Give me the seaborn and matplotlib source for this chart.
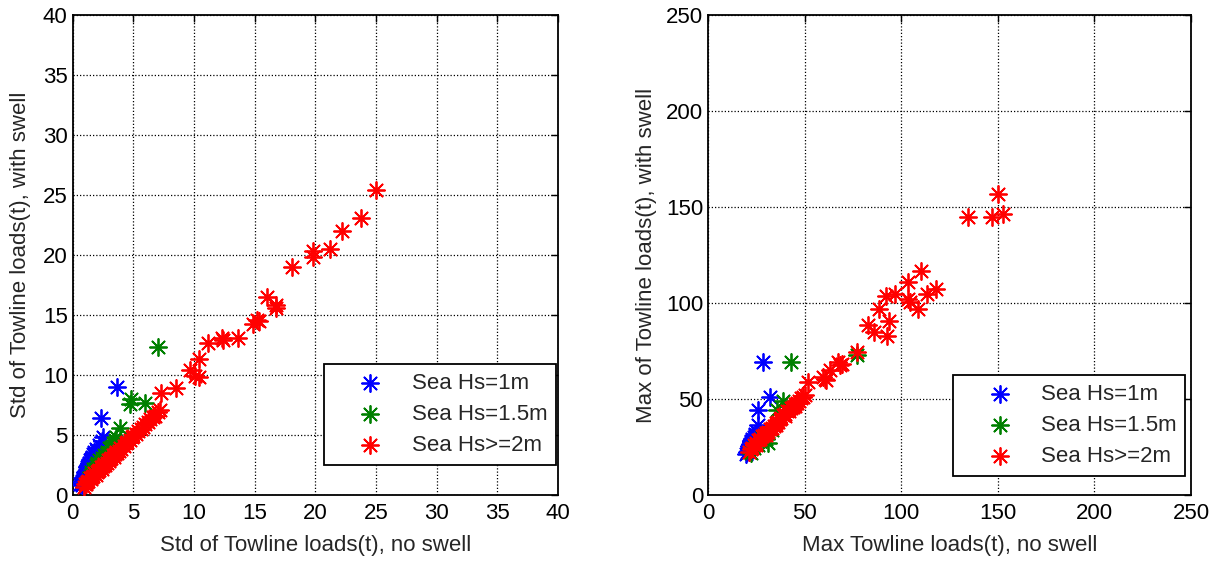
import matplotlib
matplotlib.use("Agg")
import matplotlib.pyplot as plt
import seaborn as sns
import numpy as np

# ---------------- data: left panel (Std) ----------------
std_hs1_x = [0.6, 0.7, 0.75, 0.8, 0.85, 0.9, 0.95, 1.0, 1.05, 1.1, 1.15, 1.2, 1.3, 1.35, 1.4,
             1.5, 1.6, 1.7, 1.8, 1.9, 2.0, 2.2, 2.4, 2.5, 2.3, 3.7]
std_hs1_y = [0.9, 1.0, 0.8, 1.2, 1.3, 1.5, 1.4, 1.7, 1.9, 2.0, 2.1, 2.3, 2.5, 2.7, 2.9,
             3.0, 3.2, 3.4, 3.6, 3.8, 3.5, 4.2, 4.5, 4.8, 6.4, 9.0]

std_hs15_x = [1.5, 1.7, 1.9, 2.0, 2.2, 2.4, 2.6, 2.8, 2.9, 3.0, 3.2, 3.3, 3.5, 3.6, 3.9,
              4.7, 4.85, 5.95, 7.0]
std_hs15_y = [1.9, 2.2, 2.5, 2.7, 2.9, 3.1, 3.3, 3.6, 3.5, 3.9, 4.0, 4.3, 4.6, 4.8, 5.6,
              7.6, 8.0, 7.7, 12.3]

std_hs2_x = [0.9, 1.0, 1.1, 1.2, 1.3, 1.4, 1.5, 1.6, 1.7, 1.8, 1.9, 2.0, 2.1, 2.2, 2.3, 2.4,
             2.5, 2.6, 2.7, 2.8, 2.9, 3.0, 3.1, 3.2, 3.3, 3.4, 3.5, 3.6, 3.7, 3.8, 3.9, 4.0,
             4.2, 4.4, 4.5, 4.7, 4.9, 5.0, 5.2, 5.4, 5.6, 5.8, 6.0, 6.2, 6.4, 6.6, 6.8, 7.0,
             7.2,
             7.3, 8.5, 9.7, 10.1, 10.4, 10.4, 11.2, 12.3, 12.4, 13.6, 14.9, 15.2, 15.4, 16.0,
             16.8, 16.8, 18.1, 19.8, 19.8, 21.2, 22.2, 23.75, 25.0]
std_hs2_y = [0.7, 0.9, 0.9, 1.1, 1.2, 1.4, 1.3, 1.5, 1.6, 1.8, 1.7, 1.9, 2.0, 2.1, 2.3, 2.2,
             2.4, 2.6, 2.5, 2.7, 2.9, 2.8, 3.0, 3.1, 3.3, 3.2, 3.4, 3.6, 3.5, 3.7, 3.9, 3.8,
             4.1, 4.3, 4.4, 4.6, 4.8, 4.9, 5.1, 5.3, 5.5, 5.7, 5.9, 6.1, 6.3, 6.5, 6.6, 6.9,
             7.1,
             8.5, 8.9, 10.4, 9.9, 9.8, 11.3, 12.7, 13.1, 12.9, 13.1, 14.25, 14.6, 14.5, 16.5,
             15.8, 15.6, 19.0, 20.3, 19.8, 20.5, 22.0, 23.1, 25.4]

# ---------------- data: right panel (Max) ----------------
max_hs1_x = [19.5, 20.0, 20.5, 21.0, 21.0, 21.5, 22.0, 22.0, 22.5, 23.0, 23.5, 24.0, 24.5,
             25.0, 25.5, 26.0, 24.3, 26.0, 26.0, 32.0, 28.6]
max_hs1_y = [21.5, 22.5, 23.0, 24.0, 25.5, 26.5, 26.0, 28.0, 27.5, 29.0, 28.5, 30.0, 31.0,
             30.5, 33.0, 32.0, 31.9, 36.7, 44.1, 51.3, 69.1]

max_hs15_x = [22.0, 24.0, 26.0, 27.8, 30.0, 31.0, 33.0, 35.5, 38.9, 43.2, 77.0]
max_hs15_y = [22.0, 24.5, 26.0, 30.2, 29.0, 27.0, 34.0, 44.4, 49.2, 69.1, 72.8]

max_hs2_x = [21, 22, 23, 24, 25, 26, 27, 28, 29, 30, 31, 32, 33, 34, 35, 36, 37, 38, 39, 40,
             41, 42, 43, 44, 45, 46, 47, 48, 49, 50, 25, 30, 35, 40, 45,
             51.8, 59.6, 61.3, 63.0, 60.4, 67.3, 68.2, 69.1, 77.0, 82.8, 85.7, 92.6, 88.3,
             93.6, 92.3, 96.6, 103.5, 103.5, 104.3, 108.6, 110.4, 113.5, 118.1, 134.5,
             147.0, 150.3, 152.5]
max_hs2_y = [22.5, 24.0, 24.5, 26.0, 27.0, 28.5, 29.0, 30.5, 31.0, 32.5, 33.0, 34.5, 35.0,
             36.0, 37.5, 38.0, 39.5, 40.0, 41.5, 42.0, 43.5, 44.0, 45.5, 46.0, 47.5, 48.0,
             49.0, 50.5, 51.0, 52.0, 26.0, 31.0, 36.5, 41.0, 46.5,
             59.0, 61.6, 59.9, 65.1, 60.5, 69.4, 67.7, 68.2, 74.5, 88.3, 84.9, 82.8, 97.0,
             90.9, 103.8, 104.7, 110.7, 102.1, 100.4, 97.0, 116.7, 104.7, 107.3, 144.6,
             144.6, 156.7, 146.3]

labels = ["Sea Hs=1m", "Sea Hs=1.5m", "Sea Hs>=2m"]
colors = ["#0000ff", "#008000", "#ff0000"]

left_ticks = [0, 5, 10, 15, 20, 25, 30, 35, 40]
right_ticks = [0, 50, 100, 150, 200, 250]

# ---------------- style ----------------
sns.set_style("white")
plt.rcParams["font.family"] = ["Liberation Sans", "DejaVu Sans"]
plt.rcParams["font.size"] = 16

FS = 16

fig = plt.figure(figsize=(12.18, 5.62), dpi=100)
axL = fig.add_axes([0.0596, 0.1192, 0.3985, 0.854])
axR = fig.add_axes([0.5813, 0.1192, 0.3966, 0.854])

star = (8, 2, 0)

def draw(ax, series, ticks, xlabel, ylabel, leg_anchor, ylab_x):
    for (x, y), lab, col in zip(series, labels, colors):
        sns.scatterplot(x=x, y=y, ax=ax, marker=star, color=col, s=150,
                        linewidth=1.3, label=lab, zorder=3)
    ax.set_xlim(ticks[0], ticks[-1])
    ax.set_ylim(ticks[0], ticks[-1])
    ax.set_xticks(ticks)
    ax.set_yticks(ticks)
    ax.grid(True, color="black", linestyle=(0, (1, 1.6)), linewidth=0.9)
    ax.set_axisbelow(True)
    for sp in ax.spines.values():
        sp.set_color("black")
        sp.set_linewidth(1.3)
    ax.tick_params(direction="in", length=5, width=1, top=True, right=True,
                   labelsize=FS, colors="black")
    ax.tick_params(axis="x", pad=6)
    ax.tick_params(axis="y", pad=3.5)
    ax.set_xlabel(xlabel, fontsize=FS)
    ax.set_ylabel(ylabel, fontsize=FS)
    ax.xaxis.set_label_coords(0.5, -0.083)
    ax.yaxis.set_label_coords(ylab_x, 0.5)
    leg = ax.legend(loc="lower right", bbox_to_anchor=leg_anchor, fontsize=FS,
                    frameon=True, fancybox=False, framealpha=1, edgecolor="black",
                    borderpad=0.4, handlelength=3.4, handletextpad=0.15,
                    labelspacing=0.45, borderaxespad=0)
    leg.get_frame().set_linewidth(1.3)

draw(axL,
     [(std_hs1_x, std_hs1_y), (std_hs15_x, std_hs15_y), (std_hs2_x, std_hs2_y)],
     left_ticks,
     "Std of Towline loads(t), no swell",
     "Std of Towline loads(t), with swell",
     (0.996, 0.0625), -0.086)

draw(axR,
     [(max_hs1_x, max_hs1_y), (max_hs15_x, max_hs15_y), (max_hs2_x, max_hs2_y)],
     right_ticks,
     "Max Towline loads(t), no swell",
     "Max of Towline loads(t), with swell",
     (0.988, 0.04), -0.1064)

fig.savefig("out.png", dpi=100, facecolor="white")
